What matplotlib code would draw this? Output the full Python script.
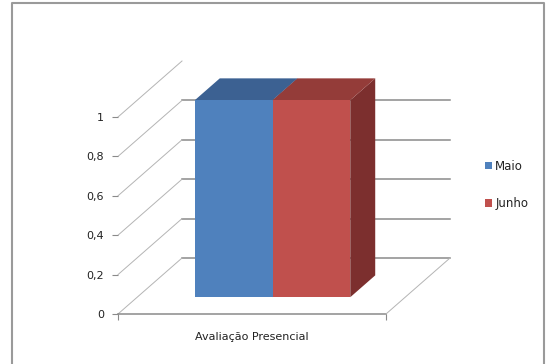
import matplotlib.pyplot as plt
from matplotlib.patches import Polygon, Patch
from matplotlib.lines import Line2D

categoria = 'Avaliação Presencial'
meses = ['Maio', 'Junho']
valores = [1, 1]
cores_frente = ['#4F81BD', '#C0504D']
cores_topo = ['#3C6192', '#943C39']
cores_lado = ['#385D8A', '#7C2F2E']
ticks_y = [0, 0.2, 0.4, 0.6, 0.8, 1]
rotulos_y = ['0', '0,2', '0,4', '0,6', '0,8', '1']

W, H = 551, 364
fig = plt.figure(figsize=(W / 100, H / 100), dpi=100)
plt.rcParams['font.family'] = ['DejaVu Sans']

# eixo = frente do "chao" do grafico 3D
ax = fig.add_axes([118 / W, 50 / H, 268 / W, 197 / H])
ax.set_xlim(0, 1)
ax.set_ylim(0, 1)
for s in ax.spines.values():
    s.set_visible(False)

# deslocamento da profundidade total (em unidades de dados)
DX, DY = 64 / 268, 56 / 197


def proj(x, y, t):
    return (x + DX * t, y + DY * t)


cinza = '#8a8a8a'

# parede de fundo
for v in ticks_y[:-1]:
    ax.plot([DX, 1 + DX], [v + DY, v + DY], color=cinza, lw=1.1,
            clip_on=False, zorder=1)
# parede lateral
for v in ticks_y:
    ax.plot([0, DX], [v, v + DY], color='#b4b4b4', lw=0.7,
            clip_on=False, zorder=1)
# chao
ax.plot([0, 1], [0, 0], color=cinza, lw=1.1, clip_on=False, zorder=1)
ax.plot([1, 1 + DX], [0, DY], color='#b4b4b4', lw=0.7, clip_on=False, zorder=1)

# barras
larg = 0.29
x0 = 0.5 - larg * len(valores) / 2 + 0.005
t0, t1 = 0.3, 0.69
for i, v in enumerate(valores):
    xl = x0 + i * larg
    xr = xl + larg
    lado = [proj(xr, 0, t0), proj(xr, v, t0), proj(xr, v, t1), proj(xr, 0, t1)]
    topo = [proj(xl, v, t0), proj(xr, v, t0), proj(xr, v, t1), proj(xl, v, t1)]
    frente = [proj(xl, 0, t0), proj(xr, 0, t0), proj(xr, v, t0), proj(xl, v, t0)]
    for pts, c in [(lado, cores_lado[i]), (topo, cores_topo[i]), (frente, cores_frente[i])]:
        ax.add_patch(Polygon(pts, closed=True, facecolor=c, edgecolor='none',
                             clip_on=False, zorder=2 + i))

ax.set_yticks(ticks_y, rotulos_y)
ax.tick_params(axis='y', length=4, color=cinza, labelsize=8, pad=6,
               labelcolor='#222222')
ax.set_xticks([0, 1], ['', ''])
ax.set_xticks([0.5], [categoria], minor=True)
ax.tick_params(axis='x', which='major', length=4, color=cinza)
ax.tick_params(axis='x', which='minor', length=0, pad=13, labelsize=8,
               labelcolor='#222222')

fig.legend(handles=[Patch(facecolor=c, label=m) for c, m in zip(cores_frente, meses)],
           loc='center left', bbox_to_anchor=(474 / W, 1 - 185 / H), frameon=False,
           fontsize=8.5, handlelength=0.6, handleheight=0.6, handletextpad=0.3,
           labelspacing=2.1, labelcolor='#222222')

# moldura externa
fig.add_artist(Line2D([12 / W, 12 / W, 544 / W, 544 / W], [0, 1 - 3 / H, 1 - 3 / H, 0],
                      color='#9a9a9a', lw=1.5))

fig.savefig('out.png', dpi=100)
